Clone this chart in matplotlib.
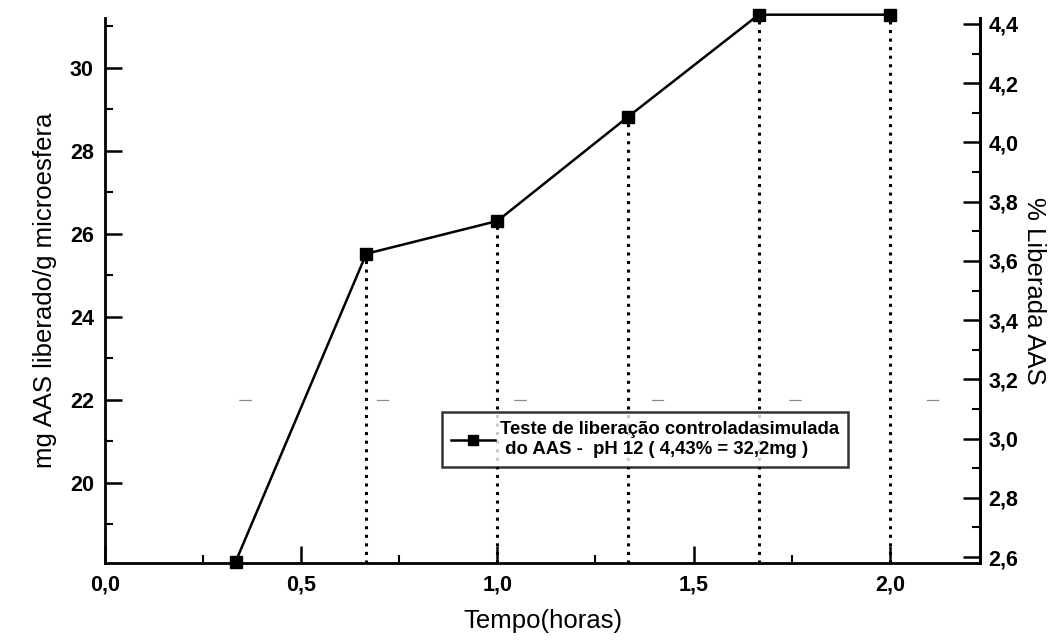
import matplotlib
matplotlib.use("Agg")
import matplotlib.pyplot as plt
from matplotlib.ticker import MultipleLocator, FuncFormatter

# data
tempo_h = [0.333, 0.666, 1.0, 1.333, 1.666, 2.0]
mg_liberado = [18.1, 25.52, 26.31, 28.82, 31.28, 31.28]

legend_label = "Teste de liberação controladasimulada\n do AAS -  pH 12 ( 4,43% = 32,2mg )"
xlabel = "Tempo(horas)"
ylabel_left = "mg AAS liberado/g microesfera"
ylabel_right = "% Liberada AAS"

plt.rcParams['font.family'] = ['Liberation Sans', 'DejaVu Sans']


def virgula(fmt):
    return FuncFormatter(lambda v, pos: (fmt % v).replace('.', ','))


fig = plt.figure(figsize=(10.58, 6.41), dpi=100)
ax = fig.add_axes([0.0992, 0.1217, 0.8271, 0.8502])

# faint scan marks at 22
ax.axhline(22, color='0.55', lw=0.9, ls=(3, (10, 100)), zorder=0)

for x, y in zip(tempo_h[1:], mg_liberado[1:]):
    ax.plot([x, x], [18.07, y], color='black', lw=2.2, ls=(0, (1, 1.8)), zorder=1)

ax.plot(tempo_h, mg_liberado, color='black', lw=1.8, marker='s', markersize=8.5,
        label=legend_label, clip_on=False, zorder=3)

ax.set_xlim(0, 2.23)
ax.set_ylim(18.07, 31.2)
ax.spines['top'].set_visible(False)
for s in ['left', 'bottom', 'right']:
    ax.spines[s].set_linewidth(2)

ax.xaxis.set_major_locator(MultipleLocator(0.5))
ax.xaxis.set_minor_locator(MultipleLocator(0.25))
ax.yaxis.set_major_locator(MultipleLocator(2))
ax.yaxis.set_minor_locator(MultipleLocator(1))
ax.xaxis.set_major_formatter(virgula('%.1f'))
ax.tick_params(which='major', direction='in', length=12, width=1.8, labelsize=15.5, pad=8)
ax.tick_params(which='minor', direction='in', length=6, width=1.5)
ax.tick_params(axis='y', right=False)
for t in ax.get_xticklabels() + ax.get_yticklabels():
    t.set_fontweight('bold')

ax2 = ax.twinx()
ax2.set_ylim(2.58, 4.42)
ax2.yaxis.set_major_locator(MultipleLocator(0.2))
ax2.yaxis.set_minor_locator(MultipleLocator(0.1))
ax2.yaxis.set_major_formatter(virgula('%.1f'))
ax2.tick_params(which='major', direction='in', length=12, width=1.8, labelsize=15.5, pad=6)
ax2.tick_params(which='minor', direction='in', length=6, width=1.5)
ax2.spines['top'].set_visible(False)
ax2.spines['right'].set_linewidth(2)
for t in ax2.get_yticklabels():
    t.set_fontweight('bold')

ax.set_xlabel(xlabel, fontsize=18.5, labelpad=10)
ax.set_ylabel(ylabel_left, fontsize=18.5, labelpad=9)
ax2.set_ylabel(ylabel_right, fontsize=18.5, rotation=270, labelpad=20)

leg = ax.legend(loc='upper left', bbox_to_anchor=(0.385, 0.277), fontsize=13.3,
                frameon=True, fancybox=False, edgecolor='black', handlelength=2.4,
                markerscale=0.85, borderpad=0.5, handletextpad=0.25, borderaxespad=0)
leg.get_frame().set_linewidth(1.8)
for t in leg.get_texts():
    t.set_fontweight('bold')

fig.savefig("out.png", dpi=100)
